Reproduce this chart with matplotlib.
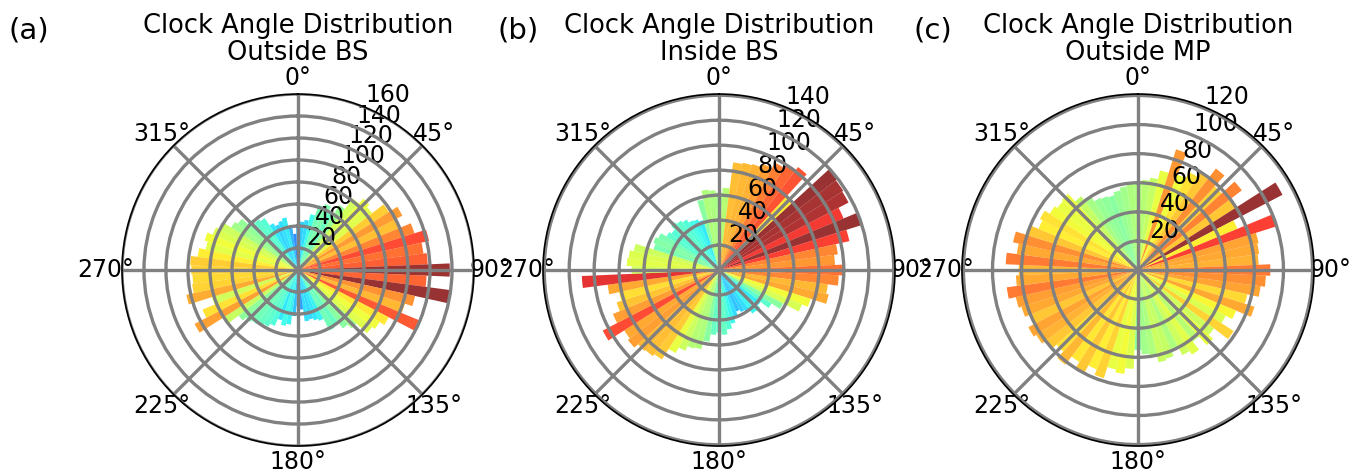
import numpy as np
import matplotlib
matplotlib.use("Agg")
import matplotlib.pyplot as plt

# Clock angle bin centres (degrees), 5-degree bins
angles_deg = np.arange(0, 360, 5)

# Counts per bin for each region
counts_outside_bs = [
    40, 44, 46, 52, 62, 65, 60, 70, 82, 88, 85, 98,
    107, 100, 111, 122, 115, 118, 138, 117, 139, 109, 102, 119,
    93, 88, 85, 72, 67, 60, 62, 50, 48, 46, 47, 36,
    33, 42, 50, 52, 48, 55, 58, 60, 62, 64, 68, 80,
    106, 94, 82, 104, 97, 96, 97, 98, 92, 86, 89, 84,
    81, 72, 69, 62, 58, 56, 48, 45, 47, 49, 40, 33,
]
counts_inside_bs = [
    62, 66, 87, 88, 89, 92, 97, 101, 104, 80, 120, 118,
    117, 108, 120, 107, 96, 93, 99, 96, 88, 90, 77, 72,
    58, 50, 42, 45, 44, 40, 38, 36, 40, 44, 48, 52,
    50, 52, 58, 65, 66, 70, 75, 85, 87, 88, 92, 90,
    105, 92, 86, 82, 90, 110, 70, 74, 73, 70, 55, 57,
    55, 50, 48, 52, 50, 48, 45, 44, 42, 58, 65, 64,
]
counts_outside_mp = [
    60, 62, 64, 70, 87, 71, 76, 80, 88, 78, 90, 80,
    112, 74, 100, 85, 84, 83, 91, 88, 85, 77, 84, 73,
    68, 78, 66, 70, 62, 69, 66, 60, 64, 65, 60, 58,
    55, 68, 72, 70, 78, 74, 80, 75, 82, 76, 80, 83,
    85, 80, 84, 86, 91, 84, 82, 91, 84, 88, 80, 74,
    76, 72, 70, 71, 64, 59, 56, 55, 54, 56, 58, 60,
]

titles = [
    "Clock Angle Distribution\nOutside BS",
    "Clock Angle Distribution\nInside BS",
    "Clock Angle Distribution\nOutside MP",
]
panel_tags = ["(a)", "(b)", "(c)"]
r_limits = [160, 141, 121]
r_ticks = [np.arange(20, 161, 20), np.arange(20, 141, 20), np.arange(20, 121, 20)]

fig = plt.figure(figsize=(13.52, 4.72), dpi=100)
lefts = [0.0902, 0.4016, 0.7115]
tag_x = [0.006, 0.368, 0.676]
width, height, bottom = 0.2604, 0.7458, 0.055

for i, counts in enumerate([counts_outside_bs, counts_inside_bs, counts_outside_mp]):
    counts = np.asarray(counts, dtype=float)
    ax = fig.add_axes([lefts[i], bottom, width, height], projection="polar")
    ax.set_theta_zero_location("N")
    ax.set_theta_direction(-1)
    colors = plt.cm.jet(counts / counts.max())
    ax.bar(np.deg2rad(angles_deg), counts, width=np.deg2rad(5),
           color=colors, alpha=0.8, edgecolor="none")
    ax.set_ylim(0, r_limits[i])
    ax.set_yticks(r_ticks[i])
    ax.set_thetagrids(np.arange(0, 360, 45))
    ax.grid(True, color="gray", linewidth=2.4)
    ax.tick_params(labelsize=17)
    ax.tick_params(axis="x", pad=1)
    ax.spines["polar"].set_linewidth(1.2)
    ax.set_title(titles[i], fontsize=18.5, pad=2, linespacing=1.05)
    fig.text(tag_x[i], 0.935, panel_tags[i], fontsize=21, ha="left", va="center")

fig.savefig("out.png", dpi=100)
